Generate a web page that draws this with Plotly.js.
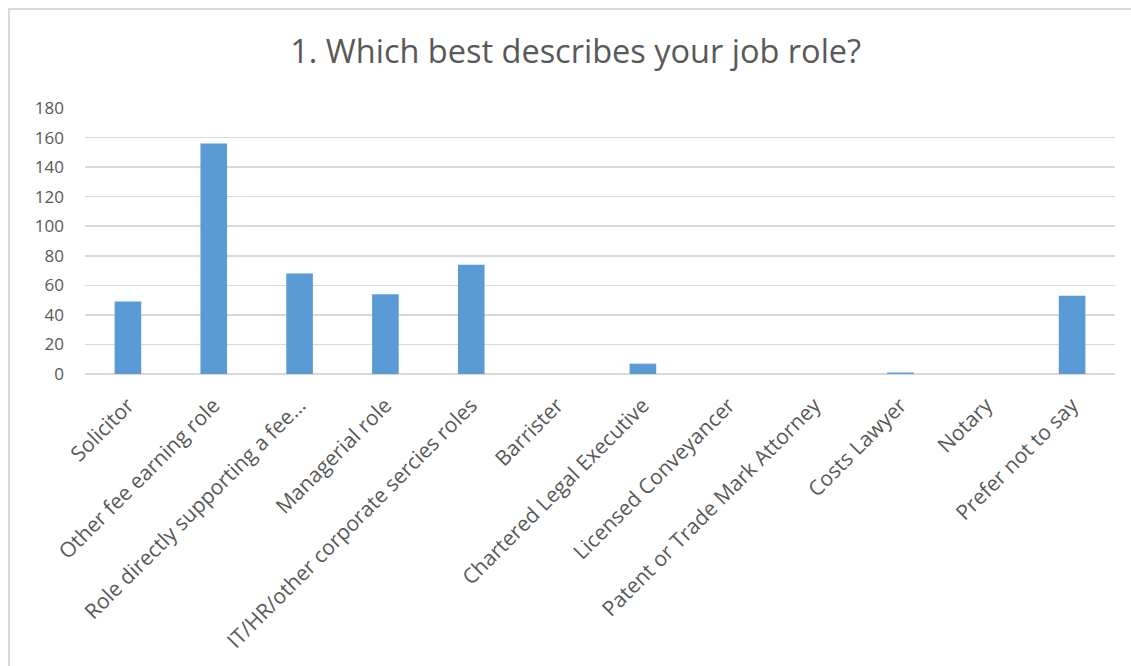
<!DOCTYPE html>
<html>
<head>
<meta charset="utf-8">
<script src="https://cdn.plot.ly/plotly-3.0.1.min.js"></script>
<style>
html,body{margin:0;padding:0;background:#fff;}
#frame{position:absolute;left:8px;top:8px;width:1140px;height:680px;border:2px solid #d9d9d9;box-sizing:border-box;}
#chart{position:absolute;left:0;top:0;width:1131px;height:666px;}
</style>
</head>
<body>
<div id="frame"></div>
<div id="chart"></div>
<script>
const categories = ["Solicitor","Other fee earning role","Role directly supporting a fee…","Managerial role","IT/HR/other corporate sercies roles","Barrister","Chartered Legal Executive","Licensed Conveyancer","Patent or Trade Mark Attorney","Costs Lawyer","Notary","Prefer not to say"];
const counts = [49,156,68,54,74,0,7,0,0,1,0,53];
const yTicks = [0,20,40,60,80,100,120,140,160,180];

const trace = {type:'bar', x:categories, y:counts, marker:{color:'#5b9bd5'}, hoverinfo:'x+y'};
const layout = {
  width:1131, height:666,
  margin:{l:85, r:16, t:108, b:292},
  paper_bgcolor:'rgba(0,0,0,0)', plot_bgcolor:'rgba(0,0,0,0)',
  title:{text:'1. Which best describes your job role?', x:0.509, xanchor:'center', y:0.922, yanchor:'middle', font:{family:'Open Sans, Liberation Sans, sans-serif', size:32.5, color:'#595959'}},
  bargap:0.69,
  showlegend:false,
  font:{family:'Open Sans, Liberation Sans, sans-serif', color:'#595959'},
  xaxis:{tickangle:-45, tickfont:{size:21, color:'#595959'}, showgrid:false, showline:false, ticks:'', ticklabelstandoff:14, automargin:false},
  yaxis:{range:[0,180], tickvals:yTicks, ticktext:yTicks.map(String), showgrid:true, gridcolor:'#d9d9d9', gridwidth:1.5, zeroline:true, zerolinecolor:'#d9d9d9', zerolinewidth:1.5, tickfont:{size:17, color:'#595959'}, ticks:'', ticklabelstandoff:20, automargin:false, fixedrange:true}
};
Plotly.newPlot('chart',[trace],layout,{displayModeBar:false,staticPlot:true});
</script>
</body>
</html>
